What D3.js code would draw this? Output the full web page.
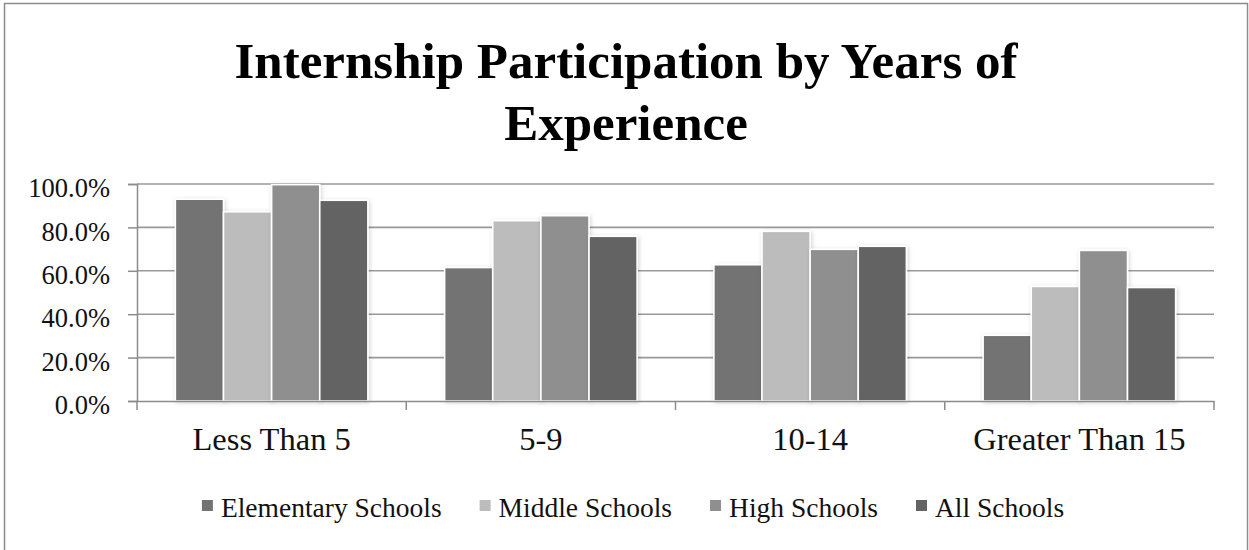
<!DOCTYPE html>
<html>
<head>
<meta charset="utf-8">
<script src="https://cdn.jsdelivr.net/npm/d3@7"></script>
<style>
  html, body { margin: 0; padding: 0; background: #fff; }
  svg { display: block; }
</style>
</head>
<body>
<svg id="chart" width="1249" height="550"></svg>
<script>
// Data
const categories = ["Less Than 5", "5-9", "10-14", "Greater Than 15"];
const seriesNames = ["Elementary Schools", "Middle Schools", "High Schools", "All Schools"];
const elementarySchools = [0.93, 0.615, 0.628, 0.303];
const middleSchools = [0.872, 0.831, 0.782, 0.528];
const highSchools = [0.997, 0.854, 0.699, 0.694];
const allSchools = [0.925, 0.759, 0.713, 0.523];
const yTicks = [0, 0.2, 0.4, 0.6, 0.8, 1.0];
const titleLines = ["Internship Participation by Years of", "Experience"];

const seriesValues = [elementarySchools, middleSchools, highSchools, allSchools];
const colors = ["#737373", "#bcbcbc", "#8f8f8f", "#636363"];

const W = 1249, H = 550;
const plot = { left: 137, right: 1214, top: 184, bottom: 401 };
const serif = "'Liberation Serif', 'Times New Roman', serif";

const svg = d3.select("#chart");

// Soft shadow around the bars
const defs = svg.append("defs");
const f = defs.append("filter").attr("id", "barShadow")
  .attr("x", "-20%").attr("y", "-10%").attr("width", "140%").attr("height", "120%");
f.append("feDropShadow").attr("dx", 1).attr("dy", 1).attr("stdDeviation", 2)
  .attr("flood-color", "#000").attr("flood-opacity", 0.18);

// Outer chart frame
svg.append("rect")
  .attr("x", 4.5).attr("y", 3.5).attr("width", 1243).attr("height", 620)
  .attr("fill", "none").attr("stroke", "#8c8c8c").attr("stroke-width", 1.5);

// Title
const title = svg.append("text")
  .attr("text-anchor", "middle")
  .attr("font-family", serif).attr("font-weight", "bold")
  .attr("font-size", 51).attr("fill", "#000");
title.selectAll("tspan").data(titleLines).join("tspan")
  .attr("x", 626)
  .attr("y", (d, i) => i === 0 ? 78 : 140)
  .text(d => d);

// Scales
const x0 = d3.scaleBand().domain(categories).range([plot.left, plot.right]).paddingInner(0).paddingOuter(0);
const groupPad = x0.bandwidth() * 0.1425;
const x1 = d3.scaleBand().domain(seriesNames).range([groupPad, x0.bandwidth() - groupPad]).padding(0);
const y = d3.scaleLinear().domain([0, 1]).range([plot.bottom, plot.top]);

// Gridlines
svg.append("g").selectAll("line").data(yTicks.filter(t => t > 0)).join("line")
  .attr("x1", plot.left).attr("x2", plot.right)
  .attr("y1", d => y(d)).attr("y2", d => y(d))
  .attr("stroke", "#999999").attr("stroke-width", 1.6);

// Bars
const groups = svg.append("g").selectAll("g").data(categories).join("g")
  .attr("transform", d => `translate(${x0(d)},0)`);
groups.selectAll("rect")
  .data((c, ci) => seriesNames.map((s, si) => ({ s, si, v: seriesValues[si][ci] })))
  .join("rect")
  .attr("x", d => x1(d.s))
  .attr("y", d => y(d.v))
  .attr("width", x1.bandwidth())
  .attr("height", d => y(0) - y(d.v))
  .attr("fill", d => colors[d.si])
  .attr("stroke", "#ffffff").attr("stroke-width", 1.6)
  .attr("filter", "url(#barShadow)");

// Y axis
const yAxis = svg.append("g").attr("transform", `translate(${plot.left},0)`)
  .call(d3.axisLeft(y).tickValues(yTicks).tickFormat(d3.format(".1%")).tickSize(9).tickPadding(18));
yAxis.select(".domain").attr("stroke", "#8c8c8c").attr("stroke-width", 1.5);
yAxis.selectAll(".tick line").attr("stroke", "#8c8c8c").attr("stroke-width", 1.5);
yAxis.selectAll(".tick text")
  .attr("font-family", serif).attr("font-size", 26.5).attr("fill", "#111")
  .attr("dy", "0.48em");

// X axis: labels at category centres, ticks on category boundaries
const xAxis = svg.append("g").attr("transform", `translate(0,${plot.bottom})`)
  .call(d3.axisBottom(x0).tickSize(0).tickPadding(26));
xAxis.select(".domain").attr("stroke", "#8c8c8c").attr("stroke-width", 1.5);
xAxis.selectAll(".tick text")
  .attr("font-family", serif).attr("font-size", 32.5).attr("fill", "#111");
const boundaries = categories.map(c => x0(c)).concat([x0.range()[1]]);
xAxis.append("g").selectAll("line").data(boundaries).join("line")
  .attr("x1", d => d).attr("x2", d => d)
  .attr("y1", 0).attr("y2", 9)
  .attr("stroke", "#8c8c8c").attr("stroke-width", 1.5);

// Legend
const legend = svg.append("g");
const items = legend.selectAll("g").data(seriesNames).join("g");
items.append("rect")
  .attr("y", 500).attr("width", 11).attr("height", 11)
  .attr("fill", (d, i) => colors[i]);
items.append("text")
  .attr("y", 517)
  .attr("font-family", serif).attr("font-size", 27.5).attr("fill", "#111")
  .text(d => d);
const itemGap = 38;
let cursor = 0;
const offsets = [];
items.each(function () {
  const t = d3.select(this).select("text");
  offsets.push(cursor);
  const w = t.node().getComputedTextLength();
  cursor += 11 + 8 + w + itemGap;
});
const totalW = cursor - itemGap;
const startX = 633 - totalW / 2;
items.each(function (d, i) {
  const g = d3.select(this);
  g.select("rect").attr("x", startX + offsets[i]);
  g.select("text").attr("x", startX + offsets[i] + 19);
});
</script>
</body>
</html>
